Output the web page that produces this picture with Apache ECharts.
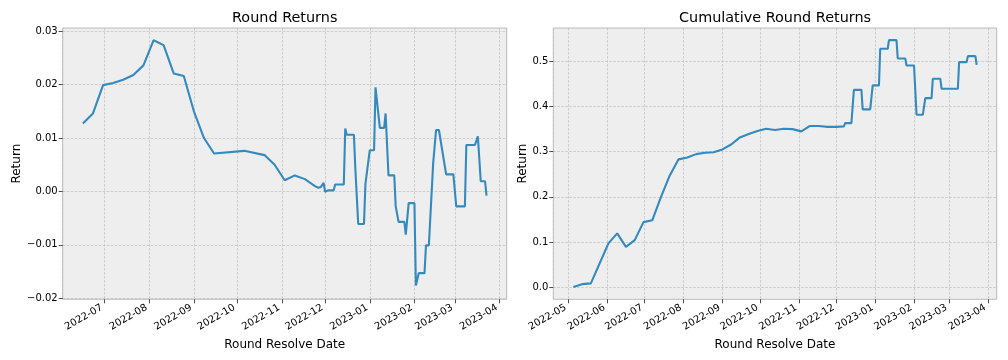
<!DOCTYPE html>
<html><head><meta charset="utf-8">
<script src="https://cdn.jsdelivr.net/npm/echarts@6/dist/echarts.min.js"></script>
<style>html,body{margin:0;padding:0;background:#fff}#c{width:1008px;height:360px}</style>
</head><body><div id="c"></div>
<script>
// Left panel: round returns
const roundDates = [
  '2022-06-16','2022-06-23','2022-06-30','2022-07-07','2022-07-14','2022-07-21','2022-07-28',
  '2022-08-04','2022-08-11','2022-08-18','2022-08-25','2022-09-01','2022-09-08','2022-09-15',
  '2022-10-06','2022-10-20','2022-10-27','2022-11-03','2022-11-10','2022-11-17','2022-11-24',
  '2022-11-26','2022-11-28','2022-11-30','2022-12-01','2022-12-03','2022-12-07','2022-12-08',
  '2022-12-14','2022-12-15','2022-12-16','2022-12-21','2022-12-22','2022-12-23','2022-12-24',
  '2022-12-28','2022-12-29','2022-12-30','2023-01-01','2023-01-04','2023-01-05','2023-01-06',
  '2023-01-08','2023-01-11','2023-01-12','2023-01-13','2023-01-14','2023-01-18','2023-01-19',
  '2023-01-20','2023-01-21','2023-01-25','2023-01-26','2023-01-28','2023-02-01','2023-02-02',
  '2023-02-03','2023-02-04','2023-02-08','2023-02-09','2023-02-11','2023-02-14','2023-02-15',
  '2023-02-16','2023-02-18','2023-02-21','2023-02-22','2023-02-23','2023-02-28','2023-03-02',
  '2023-03-08','2023-03-09','2023-03-15','2023-03-17','2023-03-19','2023-03-22','2023-03-23'
];
const roundReturns = [
  0.0127,0.0146,0.0199,0.0203,0.0209,0.0218,0.0236,
  0.0283,0.0274,0.0221,0.0216,0.0150,0.0100,0.0071,
  0.0076,0.0068,0.0050,0.0021,0.0030,0.0023,0.0010,
  0.0007,0.0008,0.0016,-0.0001,0.0002,0.0002,0.0013,
  0.0013,0.0118,0.0106,0.0106,0.0043,0.0042,-0.0061,
  -0.0061,0.0014,0.0016,0.0077,0.0077,0.0195,0.0194,
  0.0119,0.0119,0.0146,0.0146,0.0030,0.0030,-0.0028,
  -0.0030,-0.0057,-0.0057,-0.0081,-0.0022,-0.0022,-0.0176,
  -0.0176,-0.0153,-0.0153,-0.0101,-0.0101,0.0053,0.0053,
  0.0115,0.0115,0.0065,0.0063,0.0032,0.0032,-0.0028,
  -0.0028,0.0087,0.0087,0.0103,0.0019,0.0019,-0.0008
];
// Right panel: cumulative round returns
const cumDates = [
  '2022-05-05','2022-05-12','2022-05-19','2022-05-26','2022-06-02','2022-06-09','2022-06-16',
  '2022-06-23','2022-06-30','2022-07-07','2022-07-14','2022-07-21','2022-07-28','2022-08-04',
  '2022-08-11','2022-08-18','2022-08-25','2022-09-01','2022-09-08','2022-09-15','2022-09-22',
  '2022-09-29','2022-10-06','2022-10-13','2022-10-20','2022-10-27','2022-11-03','2022-11-10',
  '2022-11-17','2022-11-24','2022-12-01','2022-12-07','2022-12-08','2022-12-13','2022-12-15',
  '2022-12-21','2022-12-22','2022-12-28','2022-12-30','2023-01-04','2023-01-05','2023-01-11',
  '2023-01-12','2023-01-18','2023-01-19','2023-01-25','2023-01-26','2023-02-01','2023-02-03',
  '2023-02-08','2023-02-10','2023-02-15','2023-02-16','2023-02-22','2023-02-23','2023-03-08',
  '2023-03-09','2023-03-15','2023-03-16','2023-03-22','2023-03-23'
];
const cumReturns = [
  0.000,0.0066,0.0082,0.0525,0.0968,0.119,0.0893,
  0.104,0.144,0.148,0.200,0.2475,0.283,0.287,
  0.2946,0.2975,0.2986,0.305,0.316,0.3316,0.339,
  0.3456,0.3507,0.348,0.3507,0.350,0.345,0.357,
  0.357,0.355,0.355,0.356,0.3633,0.3633,0.437,
  0.437,0.3937,0.3937,0.4468,0.4468,0.528,0.528,
  0.5472,0.5472,0.5065,0.5065,0.491,0.491,0.3817,
  0.3817,0.4187,0.4187,0.4615,0.4615,0.4393,0.4393,
  0.4984,0.4984,0.5117,0.5117,0.4925
];
const leftYTicks = [-0.02,-0.01,0,0.01,0.02,0.03];
const rightYTicks = [0,0.1,0.2,0.3,0.4,0.5];
const titles = ['Round Returns','Cumulative Round Returns'];
const xName = 'Round Resolve Date';
const yName = 'Return';

const FONT = 'DejaVu Sans';
const DAY = 86400000;
const fmtMonth = v => { const d = new Date(v); return d.getFullYear() + '-' + String(d.getMonth()+1).padStart(2,'0'); };
const minus = s => s.replace('-', '\u2212');

function xAxis(gridIndex, min, max) {
  return {
    type: 'time', gridIndex, min, max,
    minInterval: 28*DAY, maxInterval: 31*DAY, splitNumber: 12,
    name: xName, nameLocation: 'middle', nameGap: 33,
    nameTextStyle: {fontFamily: FONT, fontSize: 12, color: '#000'},
    axisLine: {show: false, onZero: false},
    axisTick: {show: true, length: 4, lineStyle: {color: '#222', width: 0.8}},
    axisLabel: {rotate: 30, margin: 6, padding: [0,3,0,0], fontFamily: FONT, fontSize: 10, color: '#000',
      formatter: fmtMonth, showMinLabel: false, showMaxLabel: false, hideOverlap: false},
    splitLine: {show: true, lineStyle: {color: '#bdbdbd', width: 0.7, type: [2.5, 1.5]}}
  };
}
function yAxis(gridIndex, min, max, ticks, digits, gap) {
  return {
    type: 'value', gridIndex, min, max,
    name: yName, nameLocation: 'middle', nameGap: gap, nameRotate: 90,
    nameTextStyle: {fontFamily: FONT, fontSize: 12, color: '#000'},
    axisLine: {show: false, onZero: false},
    axisTick: {show: true, length: 4, customValues: ticks, lineStyle: {color: '#222', width: 0.8}},
    axisLabel: {customValues: ticks, margin: 5, fontFamily: FONT, fontSize: 10, color: '#000',
      formatter: v => minus(Number(v).toFixed(digits))},
    splitLine: {show: true, lineStyle: {color: '#bdbdbd', width: 0.7, type: [2.5, 1.5]}}
  };
}

const chart = echarts.init(document.getElementById('c'), null, {renderer: 'canvas'});
chart.setOption({
  animation: false,
  backgroundColor: '#fff',
  title: [
    {text: titles[0], left: 284.7, top: 11, textAlign: 'center', padding: 0,
     textStyle: {fontFamily: FONT, fontSize: 14.4, fontWeight: 'normal', color: '#000'}},
    {text: titles[1], left: 775, top: 11, textAlign: 'center', padding: 0,
     textStyle: {fontFamily: FONT, fontSize: 14.4, fontWeight: 'normal', color: '#000'}}
  ],
  grid: [
    {left: 62.7, right: 1008-506.7, top: 28, bottom: 360-299.3, show: true,
     backgroundColor: '#eeeeee', borderColor: '#bcbcbc', borderWidth: 1},
    {left: 553.3, right: 1008-996.7, top: 28, bottom: 360-299.3, show: true,
     backgroundColor: '#eeeeee', borderColor: '#bcbcbc', borderWidth: 1}
  ],
  xAxis: [
    xAxis(0, '2022-06-02', '2023-04-06'),
    xAxis(1, '2022-04-19', '2023-04-08')
  ],
  yAxis: [
    yAxis(0, -0.0202, 0.0306, leftYTicks, 2, 37),
    yAxis(1, -0.027, 0.574, rightYTicks, 1, 21)
  ],
  series: [
    {type: 'line', xAxisIndex: 0, yAxisIndex: 0, showSymbol: false,
     data: roundDates.map((d, i) => [d, roundReturns[i]]),
     lineStyle: {color: '#348ABD', width: 2.1}, itemStyle: {color: '#348ABD'}},
    {type: 'line', xAxisIndex: 1, yAxisIndex: 1, showSymbol: false,
     data: cumDates.map((d, i) => [d, cumReturns[i]]),
     lineStyle: {color: '#348ABD', width: 2.1}, itemStyle: {color: '#348ABD'}}
  ]
});
</script>
</body></html>
